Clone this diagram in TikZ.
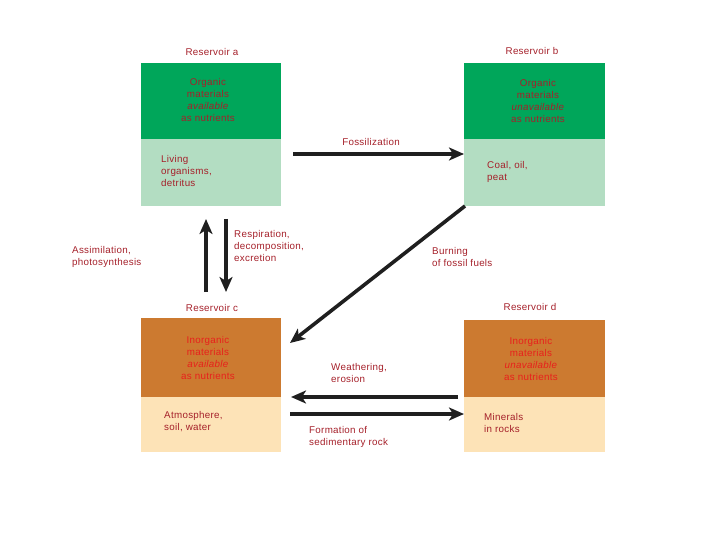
\documentclass[tikz,border=0pt]{standalone}
\usepackage{fontspec}
\setmainfont{Liberation Sans}[LetterSpace=3]
\usetikzlibrary{arrows.meta}
\definecolor{dkgreen}{HTML}{00A65A}
\definecolor{ltgreen}{HTML}{B3DDC2}
\definecolor{dkorange}{HTML}{CC7A30}
\definecolor{ltorange}{HTML}{FDE3B7}
\definecolor{lblred}{HTML}{A5202A}
\definecolor{brred}{HTML}{E8201C}
\begin{document}
\begin{tikzpicture}[x=1pt,y=-1pt,
  every node/.style={font=\fontsize{9.8}{12}\selectfont, inner sep=0pt},
  lbl/.style={text=lblred, align=left, anchor=west},
  ctr/.style={text=lblred, align=center},
  ctro/.style={text=brred, align=center},
  flow/.style={line width=3.6pt, draw=black!88, -{Stealth[length=15pt,width=13pt,inset=4pt]}}]
\useasboundingbox (0,0) rectangle (720,540);
% boxes
\fill[dkgreen] (141,63) rectangle (281,139);
\fill[ltgreen] (141,139) rectangle (281,206);
\fill[dkgreen] (464,63) rectangle (605,139);
\fill[ltgreen] (464,139) rectangle (605,206);
\fill[dkorange] (141,318) rectangle (281,397);
\fill[ltorange] (141,397) rectangle (281,452);
\fill[dkorange] (464,320) rectangle (605,397);
\fill[ltorange] (464,397) rectangle (605,452);
% reservoir labels
\node[ctr] (ra) at (212,52) {Reservoir a};
\node[ctr] (rb) at (532,51) {Reservoir b};
\node[ctr] (rc) at (212,308) {Reservoir c};
\node[ctr] (rd) at (530,307) {Reservoir d};
% box texts
\node[ctr] (at) at (208,100) {Organic\\materials\\\textit{available}\\as nutrients};
\node[ctr] (bt) at (538,101) {Organic\\materials\\\textit{unavailable}\\as nutrients};
\node[ctro] (ct) at (208,358) {Inorganic\\materials\\\textit{available}\\as nutrients};
\node[ctro] (dt) at (531,359) {Inorganic\\materials\\\textit{unavailable}\\as nutrients};
\node[lbl] (ab) at (161,171) {Living\\organisms,\\detritus};
\node[lbl] (bb) at (487,172) {Coal, oil,\\peat};
\node[lbl] (cb) at (164,422) {Atmosphere,\\soil, water};
\node[lbl] (db) at (484,423) {Minerals\\in rocks};
% process labels
\node[ctr] (fos) at (371,142) {Fossilization};
\node[lbl] (ass) at (72,257) {Assimilation,\\photosynthesis};
\node[lbl] (res) at (234,246) {Respiration,\\decomposition,\\excretion};
\node[lbl] (bur) at (432,257) {Burning\\of fossil fuels};
\node[lbl] (wea) at (331,373) {Weathering,\\erosion};
\node[lbl] (for) at (309,437) {Formation of\\sedimentary rock};
% arrow end coordinates
\coordinate (f1) at (293,154); \coordinate (f2) at (464,154);
\coordinate (u1) at (206,292); \coordinate (u2) at (206,219);
\coordinate (d1) at (226,219); \coordinate (d2) at (226,292);
\coordinate (g1) at (465,206); \coordinate (g2) at (290,343);
\coordinate (w1) at (458,397); \coordinate (w2) at (291,397);
\coordinate (s1) at (290,414); \coordinate (s2) at (464,414);
\draw[flow] (f1) -- (f2);
\draw[flow] (u1) -- (u2);
\draw[flow] (d1) -- (d2);
\draw[flow] (g1) -- (g2);
\draw[flow] (w1) -- (w2);
\draw[flow] (s1) -- (s2);
\end{tikzpicture}
\end{document}
